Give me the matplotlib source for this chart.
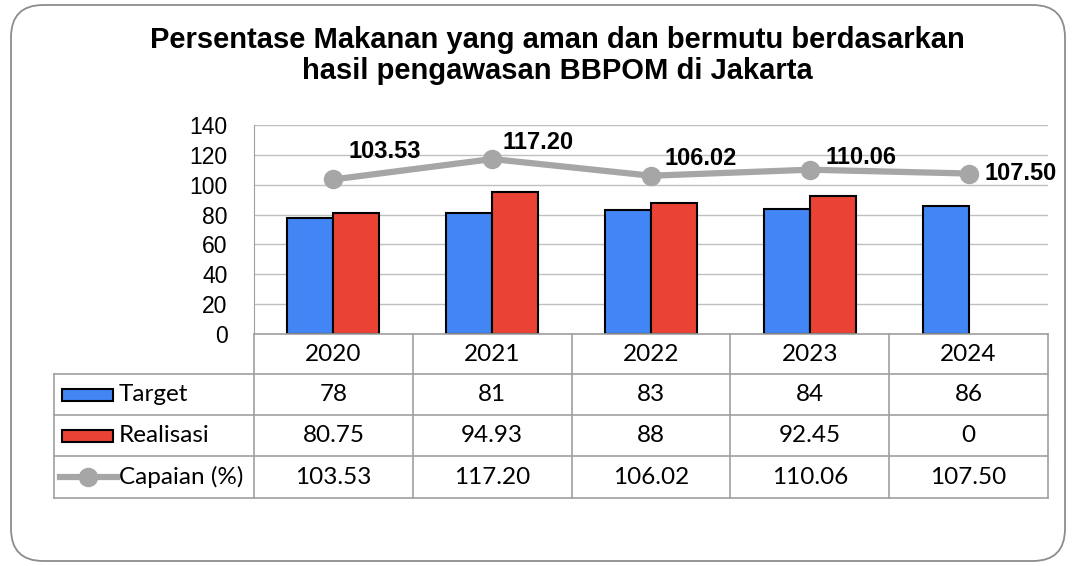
import matplotlib.pyplot as plt
from matplotlib.patches import FancyBboxPatch, Rectangle
from matplotlib.lines import Line2D
import numpy as np

# data
years = ["2020", "2021", "2022", "2023", "2024"]
target = [78, 81, 83, 84, 86]
realisasi = [80.75, 94.93, 88, 92.45, 0]
capaian = [103.53, 117.20, 106.02, 110.06, 107.50]
realisasi_txt = ["80.75", "94.93", "88", "92.45", "0"]
series_names = ["Target", "Realisasi", "Capaian (%)"]

W, H = 1076, 566
BLUE = "#4285F4"
RED = "#EA4335"
GRAY = "#A6A6A6"
GRID = "#BFBFBF"
TFONT = ["Lato", "DejaVu Sans"]

plt.rcParams['font.family'] = ['Liberation Sans', 'DejaVu Sans']

fig = plt.figure(figsize=(W / 100, H / 100), dpi=100)

def fx(px):
    return px / W

def fy(py):
    return 1 - py / H

# rounded frame
frame = FancyBboxPatch((fx(11), fy(561)), fx(1065) - fx(11), fy(5) - fy(561),
                       boxstyle="round,pad=0,rounding_size=0.03",
                       transform=fig.transFigure, facecolor="none",
                       edgecolor="#8C8C8C", linewidth=1.3, mutation_aspect=W / H,
                       zorder=-1)
fig.patches.append(frame)

fig.text(0.5177, fy(40), "Persentase Makanan yang aman dan bermutu berdasarkan",
         ha="center", va="center", fontsize=21, fontweight="bold")
fig.text(0.5177, fy(71), "hasil pengawasan BBPOM di Jakarta",
         ha="center", va="center", fontsize=21, fontweight="bold")

# plot area
L, R, T, B = 254, 1048, 125, 334
ax = fig.add_axes([fx(L), fy(B), fx(R) - fx(L), fy(T) - fy(B)])
ax.patch.set_alpha(0)
x = np.arange(len(years))
ax.set_xlim(-0.5, 4.5)
ax.set_ylim(0, 140)
ax.set_yticks(range(0, 141, 20))
ax.set_xticks([])
ax.grid(axis="y", color=GRID, linewidth=1)
ax.set_axisbelow(True)
for s in ["top", "right", "bottom"]:
    ax.spines[s].set_visible(False)
ax.spines["left"].set_color("#A0A0A0")
ax.tick_params(axis="y", length=0, pad=19, labelsize=16.5)

bw = 0.29
b1 = ax.bar(x - bw / 2, target, bw, color=BLUE, edgecolor="black", linewidth=1.5, zorder=3)
b2 = ax.bar(x + bw / 2, realisasi, bw, color=RED, edgecolor="black", linewidth=1.5, zorder=3)
for bar, v in zip(b2, realisasi):
    if v == 0:
        bar.set_visible(False)

ax.plot(x, capaian, color=GRAY, linewidth=4.5, marker="o", markersize=13,
        zorder=4, clip_on=False)

label_off = [(51, 28), (46, 17), (50, 17), (51, 12), (52, 0)]
for xi, v, off in zip(x, capaian, label_off):
    ax.annotate(f"{v:.2f}", (xi, v), xytext=off, textcoords="offset pixels",
                ha="center", va="center", fontsize=17, fontweight="bold", zorder=5)

# data table
TL = 54
rows_y = [334, 374, 415, 456, 498]
tab = fig.add_axes([fx(TL), fy(rows_y[-1]), fx(R) - fx(TL), fy(rows_y[0]) - fy(rows_y[-1])])
tab.axis("off")
cw = (R - L) / 5
tab.set_xlim(-0.5 - (L - TL) / cw, 4.5)
tab.set_ylim(rows_y[-1], rows_y[0])
lc = "#A0A0A0"
x0 = -0.5 - (L - TL) / cw
for ry in rows_y:
    if ry == rows_y[0]:
        tab.plot([-0.5, 4.5], [ry, ry], color=lc, lw=1.2, clip_on=False)
    else:
        tab.plot([x0, 4.5], [ry, ry], color=lc, lw=1.2, clip_on=False)
tab.plot([x0, x0], [rows_y[1], rows_y[-1]], color=lc, lw=1.2, clip_on=False)
for k in range(6):
    tab.plot([k - 0.5, k - 0.5], [rows_y[0], rows_y[-1]], color=lc, lw=1.2, clip_on=False)

def rc(i):
    return (rows_y[i] + rows_y[i + 1]) / 2

tfs = 17.5
for i, yr in enumerate(years):
    tab.text(i, rc(0), yr, ha="center", va="center", fontsize=tfs, family=TFONT)
    tab.text(i, rc(1), str(target[i]), ha="center", va="center", fontsize=tfs, family=TFONT)
    tab.text(i, rc(2), realisasi_txt[i], ha="center", va="center", fontsize=tfs, family=TFONT)
    tab.text(i, rc(3), f"{capaian[i]:.2f}", ha="center", va="center", fontsize=tfs, family=TFONT)

# legend keys inside table
def px2x(px):
    return x0 + (px - TL) / cw

for i, col in [(1, BLUE), (2, RED)]:
    tab.add_patch(Rectangle((px2x(62), rc(i) - 6), px2x(113) - px2x(62), 12,
                            facecolor=col, edgecolor="black", linewidth=1.5, clip_on=False))
tab.add_line(Line2D([px2x(60), px2x(117)], [rc(3), rc(3)], color=GRAY, lw=4.5, clip_on=False))
tab.plot([px2x(88)], [rc(3)], marker="o", color=GRAY, markersize=13, clip_on=False)
for i, name in enumerate(series_names):
    tab.text(px2x(119), rc(i + 1), name, ha="left", va="center", fontsize=tfs, family=TFONT)

fig.savefig("out.png", dpi=100)
